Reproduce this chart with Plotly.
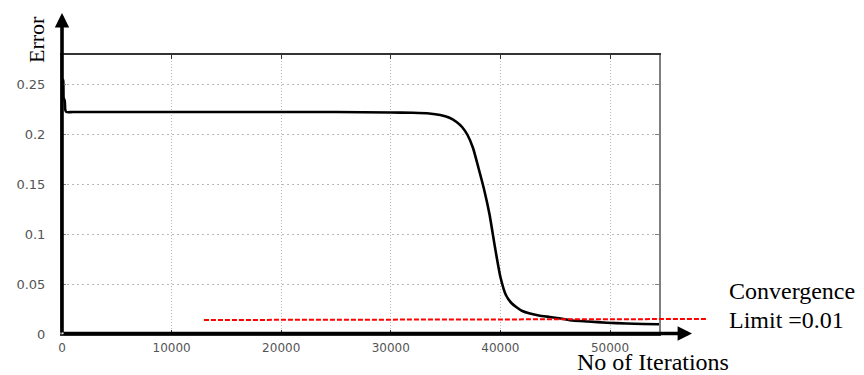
import plotly.graph_objects as go

# ---------------- data ----------------
iterations = [0, 100, 150, 250, 300, 400, 1000, 5000, 10000, 15000, 20000, 25000,
              30000, 32000, 33500, 34500, 35300, 36000, 36500, 37000, 37500, 38000,
              38500, 39000, 39500, 40000, 40500, 41000, 41500, 42000, 42700, 43500,
              44500, 45500, 46600, 48000, 49700, 51500, 53000, 54470]
errors = [0.255, 0.254, 0.236, 0.233, 0.224, 0.222, 0.222, 0.222, 0.222, 0.222, 0.222, 0.222,
          0.2215, 0.2212, 0.2205, 0.219, 0.2165, 0.212, 0.207, 0.199, 0.186, 0.166,
          0.145, 0.120, 0.087, 0.057, 0.039, 0.031, 0.0265, 0.023, 0.0205, 0.0185,
          0.017, 0.0155, 0.0135, 0.0125, 0.0113, 0.0105, 0.0100, 0.0097]

limit_x = [12950, 58940]
limit_y = [0.0140, 0.0150]

x_ticks = [0, 10000, 20000, 30000, 40000, 50000]
x_tick_labels = ["0", "10000", "20000", "30000", "40000", "50000"]
y_ticks = [0, 0.05, 0.1, 0.15, 0.2, 0.25]
y_tick_labels = ["0", "0.05", "0.1", "0.15", "0.2", "0.25"]

x_max = 54470
y_max = 0.279

# ---------------- layout geometry (pixels) ----------------
W, H = 864, 375
L, R_PLOT, R_WIDE, T, B = 62, 659, 712, 55, 334
PW, PH = R_WIDE - L, B - T


def px(x):
    return (x - L) / PW


def py(y):
    return (B - y) / PH


main_frac = (R_PLOT - L) / PW

fig = go.Figure()
fig.add_trace(go.Scatter(x=iterations, y=errors, mode="lines",
                         line=dict(color="black", width=2.6, shape="spline", smoothing=0.6),
                         xaxis="x", yaxis="y", showlegend=False, hoverinfo="skip"))
fig.add_trace(go.Scatter(x=limit_x, y=limit_y, mode="lines",
                         line=dict(color="#ff0000", width=2, dash="5px,2px"),
                         xaxis="x2", yaxis="y2", showlegend=False, hoverinfo="skip"))

y_tick_font = dict(family="DejaVu Sans", size=13, color="#555")
x_tick_font = dict(family="DejaVu Sans", size=12, color="#555")
grid_col = "#b8b8b8"

fig.update_layout(
    width=W, height=H, autosize=False,
    margin=dict(l=L, r=W - R_WIDE, t=T, b=H - B, pad=0),
    paper_bgcolor="white", plot_bgcolor="rgba(0,0,0,0)",
    xaxis=dict(domain=[0, main_frac], range=[0, x_max], anchor="y",
               tickvals=x_ticks, ticktext=x_tick_labels, tickfont=x_tick_font,
               showgrid=True, gridcolor=grid_col, griddash="1px,2px", gridwidth=1,
               zeroline=False, showline=True, linecolor="#333", linewidth=1.5,
               mirror="ticks", ticks="inside", ticklen=4, tickcolor="#333",
               ticklabelstandoff=2),
    yaxis=dict(domain=[0, 1], range=[0, y_max], anchor="x",
               tickvals=y_ticks, ticktext=y_tick_labels, tickfont=y_tick_font,
               showgrid=True, gridcolor=grid_col, griddash="2px,3px", gridwidth=1,
               zeroline=False, showline=True, linecolor="#808080", linewidth=2,
               mirror="ticks", ticks="inside", ticklen=4, tickcolor="#808080",
               ticklabelstandoff=12),
    xaxis2=dict(domain=[0, 1], range=[0, x_max / main_frac], anchor="y2",
                visible=False, showgrid=False, zeroline=False),
    yaxis2=dict(domain=[0, 1], range=[0, y_max], anchor="x2",
                visible=False, showgrid=False, zeroline=False),
)

serif = "Liberation Serif"
annotations = [
    # y axis arrow
    dict(x=px(62), y=py(13), xref="paper", yref="paper", text="", showarrow=True,
         ax=0, ay=B - 13, axref="pixel", ayref="pixel", arrowhead=2, arrowsize=0.8,
         arrowwidth=3.6, arrowcolor="black"),
    # x axis arrow
    dict(x=px(692), y=py(333.5), xref="paper", yref="paper", text="", showarrow=True,
         ax=-(692 - L), ay=0, axref="pixel", ayref="pixel", arrowhead=2, arrowsize=0.8,
         arrowwidth=3.6, arrowcolor="black"),
    dict(x=px(36), y=py(40), xref="paper", yref="paper", text="Error", textangle=-90,
         showarrow=False, xanchor="center", yanchor="middle",
         font=dict(family=serif, size=22, color="black")),
    dict(x=px(575), y=py(362), xref="paper", yref="paper", text="No of Iterations",
         showarrow=False, xanchor="left", yanchor="middle",
         font=dict(family=serif, size=24, color="black")),
    dict(x=px(727), y=py(291), xref="paper", yref="paper", text="Convergence",
         showarrow=False, xanchor="left", yanchor="middle",
         font=dict(family=serif, size=24, color="black")),
    dict(x=px(727), y=py(320), xref="paper", yref="paper", text="Limit =0.01",
         showarrow=False, xanchor="left", yanchor="middle",
         font=dict(family=serif, size=24, color="black")),
]
fig.update_layout(annotations=annotations)

fig.write_html("out.html")
